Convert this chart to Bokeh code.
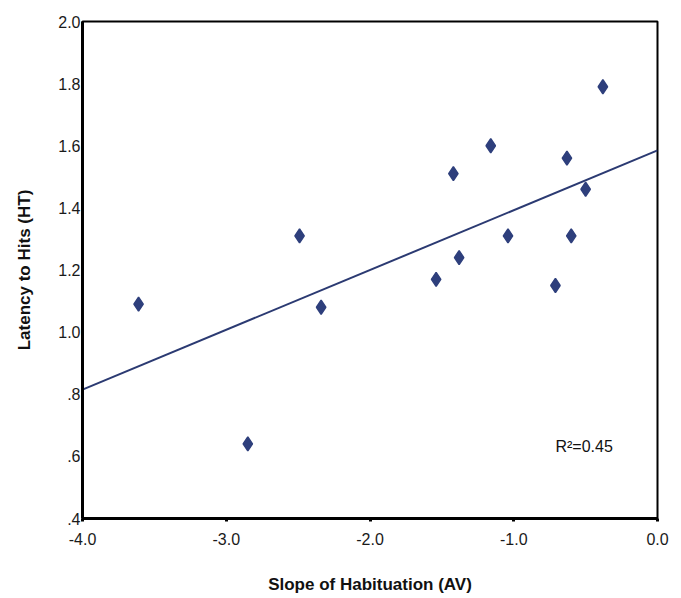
from bokeh.plotting import figure
from bokeh.models import Range1d, FixedTicker, Label
from bokeh.embed import file_html
from bokeh.resources import INLINE

# Data
slope_av = [-3.61, -2.85, -2.49, -2.34, -1.54, -1.42, -1.38, -1.16,
            -1.04, -0.71, -0.63, -0.60, -0.50, -0.38]
latency_ht = [1.09, 0.64, 1.31, 1.08, 1.17, 1.51, 1.24, 1.60,
              1.31, 1.15, 1.56, 1.31, 1.46, 1.79]

fit_x = [-4.0, 0.0]
fit_y = [0.815, 1.585]

x_ticks = [-4.0, -3.0, -2.0, -1.0, 0.0]
x_tick_labels = ["-4.0", "-3.0", "-2.0", "-1.0", "0.0"]
y_ticks = [0.4, 0.6, 0.8, 1.0, 1.2, 1.4, 1.6, 1.8, 2.0]
y_tick_labels = [".4", ".6", ".8", "1.0", "1.2", "1.4", "1.6", "1.8", "2.0"]

r2_text = "R\u00b2=0.45"

FONT = "Liberation Sans"
NAVY = "#2E3F7C"

p = figure(frame_width=575, frame_height=497,
           x_range=Range1d(-4.0, 0.0), y_range=Range1d(0.4, 2.0),
           output_backend="svg", toolbar_location=None,
           min_border_left=82, min_border_top=21, min_border_right=16,
           min_border_bottom=10)

p.xgrid.visible = False
p.ygrid.visible = False
p.background_fill_color = "white"
p.border_fill_color = "white"
p.outline_line_color = "black"
p.outline_line_width = 2

# regression line
p.line(fit_x, fit_y, line_color="#2B3A72", line_width=2)

# points
p.scatter(slope_av, latency_ht, marker="diamond", size=14,
          fill_color=NAVY, line_color=NAVY, line_width=1.5)

# x axis
xa = p.xaxis[0]
xa.ticker = FixedTicker(ticks=x_ticks)
xa.major_label_overrides = {t: l for t, l in zip(x_ticks, x_tick_labels)}
xa.minor_tick_line_color = None
xa.major_tick_in = 0
xa.major_tick_out = 3
xa.major_tick_line_width = 3
xa.major_tick_line_color = "black"
xa.axis_line_width = 3
xa.axis_line_color = "black"
xa.major_label_standoff = 11
xa.major_label_text_font = FONT
xa.major_label_text_font_size = "16px"
xa.major_label_text_color = "#1a1a1a"
xa.axis_label = "Slope of Habituation (AV)"
xa.axis_label_text_font = FONT
xa.axis_label_text_font_size = "17px"
xa.axis_label_text_font_style = "bold"
xa.axis_label_text_color = "#111111"
xa.axis_label_standoff = 27

# y axis
ya = p.yaxis[0]
ya.ticker = FixedTicker(ticks=y_ticks)
ya.major_label_overrides = {t: l for t, l in zip(y_ticks, y_tick_labels)}
ya.minor_tick_line_color = None
ya.major_tick_in = 0
ya.major_tick_out = 0
ya.axis_line_width = 3
ya.axis_line_color = "black"
ya.major_label_standoff = 2
ya.major_label_text_font = FONT
ya.major_label_text_font_size = "16px"
ya.major_label_text_color = "#1a1a1a"
ya.axis_label = "Latency to Hits (HT)"
ya.axis_label_text_font = FONT
ya.axis_label_text_font_size = "17px"
ya.axis_label_text_font_style = "bold"
ya.axis_label_text_color = "#111111"
ya.axis_label_standoff = 21

p.add_layout(Label(x=-0.71, y=0.633, text=r2_text, text_font=FONT,
                   text_font_size="16px", text_color="#111111",
                   text_baseline="middle", text_align="left"))

open("out.html", "w").write(file_html(p, INLINE))
